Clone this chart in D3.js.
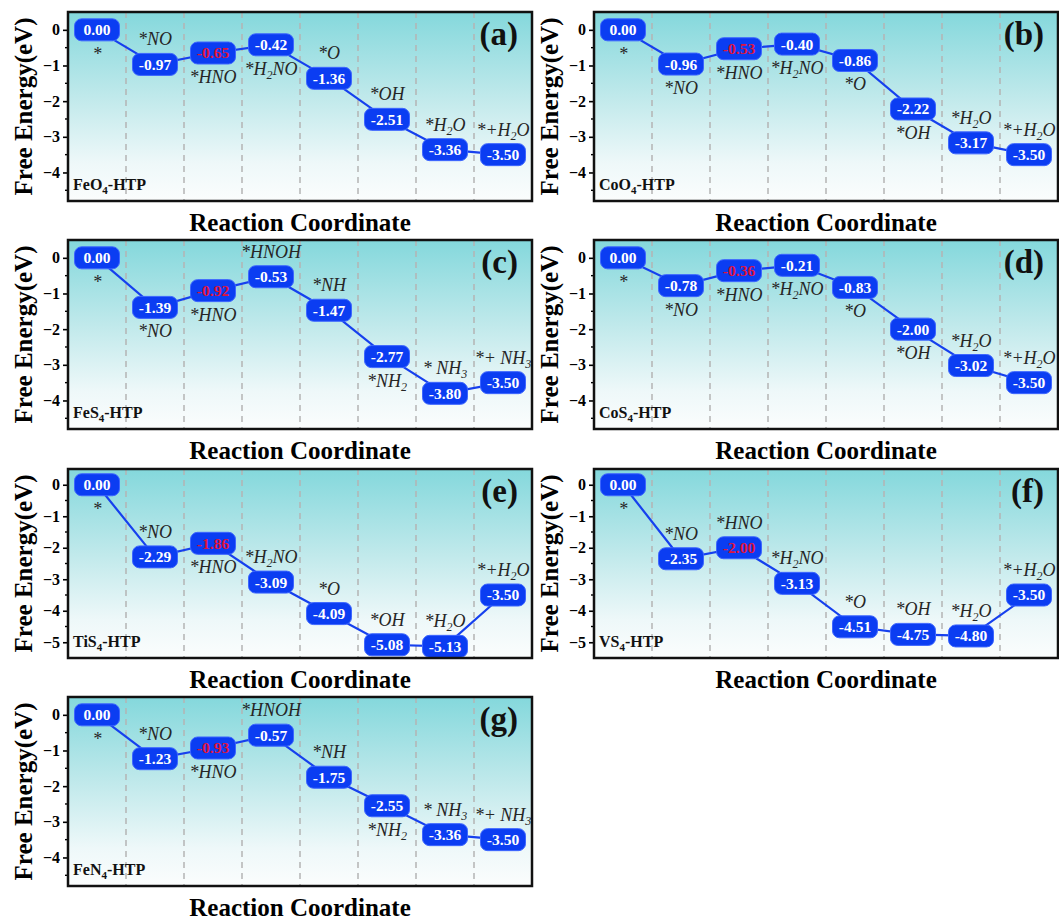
<!DOCTYPE html>
<html>
<head>
<meta charset="utf-8">
<script src="https://cdn.jsdelivr.net/npm/d3@7"></script>
<style>
  html, body { margin: 0; padding: 0; background: #ffffff; }
  svg { display: block; }
</style>
</head>
<body>
<script>
// ---------------- DATA ----------------
const panelIds   = ["(a)", "(b)", "(c)", "(d)", "(e)", "(f)", "(g)"];
const catalysts  = ["FeO4-HTP", "CoO4-HTP", "FeS4-HTP", "CoS4-HTP", "TiS4-HTP", "VS4-HTP", "FeN4-HTP"];

const energyA = [0.00, -0.97, -0.65, -0.42, -1.36, -2.51, -3.36, -3.50];
const energyB = [0.00, -0.96, -0.53, -0.40, -0.86, -2.22, -3.17, -3.50];
const energyC = [0.00, -1.39, -0.92, -0.53, -1.47, -2.77, -3.80, -3.50];
const energyD = [0.00, -0.78, -0.36, -0.21, -0.83, -2.00, -3.02, -3.50];
const energyE = [0.00, -2.29, -1.86, -3.09, -4.09, -5.08, -5.13, -3.50];
const energyF = [0.00, -2.35, -2.00, -3.13, -4.51, -4.75, -4.80, -3.50];
const energyG = [0.00, -1.23, -0.93, -0.57, -1.75, -2.55, -3.36, -3.50];

const speciesO = ["*", "*NO", "*HNO", "*H2NO", "*O", "*OH", "*H2O", "*+H2O"];
const speciesN = ["*", "*NO", "*HNO", "*HNOH", "*NH", "*NH2", "* NH3", "*+ NH3"];

// label placement relative to the energy box: "a" = above, "b" = below
const sideA = ["b", "a", "b", "b", "a", "a", "a", "a"];
const sideB = ["b", "b", "b", "b", "b", "b", "a", "a"];
const sideC = ["b", "b", "b", "a", "a", "b", "a", "a"];
const sideD = ["b", "b", "b", "b", "b", "b", "a", "a"];
const sideE = ["b", "a", "b", "a", "a", "a", "a", "a"];
const sideF = ["b", "a", "a", "a", "a", "a", "a", "a"];
const sideG = ["b", "a", "b", "a", "a", "b", "a", "a"];

const highlightIndex = 2; // value printed in red

const domainShallow = [-4.8, 0.5];
const domainDeep    = [-5.5, 0.5];
const ticksShallow  = [0, -1, -2, -3, -4];
const ticksDeep     = [0, -1, -2, -3, -4, -5];

const xTitle = "Reaction Coordinate";
const yTitle = "Free Energy(eV)";

// ---------------- LAYOUT ----------------
const W = 1059, H = 922;
const colX = [68, 594];
const rowY = [12, 240, 469, 697];
const PW = 464, PH = 189;

const panels = [
  { id: panelIds[0], name: catalysts[0], e: energyA, sp: speciesO, side: sideA, dom: domainShallow, ticks: ticksShallow, c: 0, r: 0 },
  { id: panelIds[1], name: catalysts[1], e: energyB, sp: speciesO, side: sideB, dom: domainShallow, ticks: ticksShallow, c: 1, r: 0 },
  { id: panelIds[2], name: catalysts[2], e: energyC, sp: speciesN, side: sideC, dom: domainShallow, ticks: ticksShallow, c: 0, r: 1 },
  { id: panelIds[3], name: catalysts[3], e: energyD, sp: speciesO, side: sideD, dom: domainShallow, ticks: ticksShallow, c: 1, r: 1 },
  { id: panelIds[4], name: catalysts[4], e: energyE, sp: speciesO, side: sideE, dom: domainDeep,    ticks: ticksDeep,    c: 0, r: 2 },
  { id: panelIds[5], name: catalysts[5], e: energyF, sp: speciesO, side: sideF, dom: domainDeep,    ticks: ticksDeep,    c: 1, r: 2 },
  { id: panelIds[6], name: catalysts[6], e: energyG, sp: speciesN, side: sideG, dom: domainShallow, ticks: ticksShallow, c: 0, r: 3 },
];

const SERIF = "'Liberation Serif', 'Times New Roman', 'DejaVu Serif', serif";
const BLUE = "#0b3df2";
const LINEBLUE = "#1640ee";
const RED = "#e0143c";

const svg = d3.select("body").append("svg")
  .attr("width", W).attr("height", H)
  .attr("font-family", SERIF);

const defs = svg.append("defs");
const grad = defs.append("linearGradient").attr("id", "bg")
  .attr("x1", 0).attr("y1", 0).attr("x2", 0).attr("y2", 1);
grad.append("stop").attr("offset", "0%").attr("stop-color", "#84d8dc");
grad.append("stop").attr("offset", "45%").attr("stop-color", "#c0e9eb");
grad.append("stop").attr("offset", "80%").attr("stop-color", "#eef8f9");
grad.append("stop").attr("offset", "100%").attr("stop-color", "#fbfdfd");

// add text with digit subscripts
function richText(sel, str, baseSize, subSize, subShift) {
  const parts = str.match(/(\d+|[^\d]+)/g) || [];
  let pending = 0;
  parts.forEach(p => {
    if (/^\d+$/.test(p)) {
      sel.append("tspan").attr("font-size", subSize).attr("dy", subShift + pending).text(p);
      pending = -subShift;
    } else {
      const t = sel.append("tspan").attr("font-size", baseSize).text(p);
      if (pending !== 0) t.attr("dy", pending);
      pending = 0;
    }
  });
}

panels.forEach(p => {
  const x0 = colX[p.c], y0 = rowY[p.r];
  const g = svg.append("g");

  const x = d3.scalePoint().domain(d3.range(p.e.length)).range([x0, x0 + PW]).padding(0.5);
  const y = d3.scaleLinear().domain(p.dom).range([y0 + PH, y0]);
  const step = x.step();

  // background
  g.append("rect").attr("x", x0).attr("y", y0).attr("width", PW).attr("height", PH)
    .attr("fill", "url(#bg)");

  // dashed separators
  g.selectAll("line.sep").data(d3.range(1, p.e.length)).join("line")
    .attr("x1", k => x0 + step * k).attr("x2", k => x0 + step * k)
    .attr("y1", y0).attr("y2", y0 + PH)
    .attr("stroke", "#b4b4b4").attr("stroke-width", 1.5)
    .attr("stroke-dasharray", "6,5");

  // y axis (outward ticks) with minor ticks
  const yAxis = d3.axisLeft(y).tickValues(p.ticks).tickSize(5).tickPadding(3)
    .tickFormat(d => d === 0 ? "0" : "\u2212" + Math.abs(d));
  const ax = g.append("g").attr("transform", `translate(${x0},0)`).call(yAxis);
  ax.select(".domain").remove();
  ax.selectAll(".tick line").attr("stroke", "#000").attr("stroke-width", 1.6);
  ax.selectAll(".tick text").attr("font-family", SERIF).attr("font-size", 16)
    .attr("font-weight", "bold").attr("fill", "#000");
  const minor = d3.range(p.dom[0], p.dom[1] + 0.001, 0.5)
    .map(v => Math.round(v * 2) / 2)
    .filter(v => v > p.dom[0] && v < p.dom[1] && !Number.isInteger(v));
  g.selectAll("line.minor").data(minor).join("line")
    .attr("x1", x0 - 3).attr("x2", x0)
    .attr("y1", d => y(d)).attr("y2", d => y(d))
    .attr("stroke", "#000").attr("stroke-width", 1.4);

  // connecting line
  g.append("path").datum(p.e)
    .attr("d", d3.line().x((d, i) => x(i)).y(d => y(d)))
    .attr("fill", "none").attr("stroke", LINEBLUE).attr("stroke-width", 2.2);

  // energy boxes
  const bw = 45, bh = 22;
  const nodes = g.selectAll("g.node").data(p.e).join("g")
    .attr("transform", (d, i) => `translate(${x(i)},${y(d)})`);
  nodes.append("rect")
    .attr("x", -bw / 2).attr("y", -bh / 2).attr("width", bw).attr("height", bh)
    .attr("rx", 7).attr("ry", 7)
    .attr("fill", BLUE).attr("stroke", "#3d66ff").attr("stroke-width", 1);
  nodes.append("text")
    .attr("text-anchor", "middle").attr("dy", "0.35em")
    .attr("font-size", 15.5).attr("font-weight", "bold")
    .attr("fill", (d, i) => i === highlightIndex ? RED : "#ffffff")
    .text(d => d.toFixed(2));

  // species labels
  p.sp.forEach((s, i) => {
    const cy = y(p.e[i]);
    const ty = p.side[i] === "a" ? cy - 19 : cy + 30;
    const t = g.append("text").attr("x", x(i)).attr("y", ty)
      .attr("text-anchor", "middle").attr("font-style", "italic")
      .attr("fill", "#262626");
    richText(t, s, 18, 12, 4);
  });

  // catalyst label
  const cl = g.append("text").attr("x", x0 + 5).attr("y", y0 + PH - 11)
    .attr("font-weight", "bold").attr("fill", "#111");
  richText(cl, p.name, 16, 11, 4);

  // panel id
  g.append("text").attr("x", x0 + PW - 14).attr("y", y0 + 33)
    .attr("text-anchor", "end").attr("font-size", 33).attr("font-weight", "bold")
    .attr("fill", "#111").text(p.id);

  // frame
  g.append("rect").attr("x", x0).attr("y", y0).attr("width", PW).attr("height", PH)
    .attr("fill", "none").attr("stroke", "#111").attr("stroke-width", 2.5);

  // axis titles
  g.append("text").attr("x", x0 + PW / 2).attr("y", y0 + PH + 30)
    .attr("text-anchor", "middle").attr("font-size", 25).attr("font-weight", "bold")
    .attr("fill", "#000").text(xTitle);
  g.append("text")
    .attr("transform", `translate(${x0 - 36},${y0 + PH / 2}) rotate(-90)`)
    .attr("text-anchor", "middle").attr("font-size", 25).attr("font-weight", "bold")
    .attr("fill", "#000").text(yTitle);
});
</script>
</body>
</html>
